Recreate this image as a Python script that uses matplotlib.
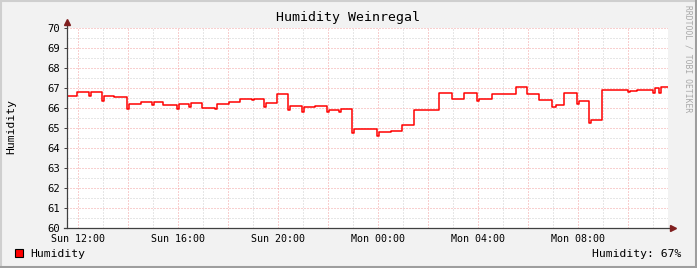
import matplotlib
matplotlib.use("Agg")
import matplotlib.pyplot as plt
from matplotlib.patches import Rectangle
from matplotlib.lines import Line2D

# ---- data (hours relative to Sun 12:00, humidity %) ----
hours = [-0.44, -0.03, 0.43, 0.51, 0.95, 1.03, 1.44, 1.95, 2.03, 2.5,
         2.95, 3.03, 3.4, 3.97, 4.05, 4.45, 4.53, 4.95, 5.48, 5.56,
         6.05, 6.48, 6.97, 7.05, 7.45, 7.53, 7.95, 8.41, 8.49, 8.95,
         9.03, 9.48, 9.95, 10.03, 10.45, 10.53, 10.95, 11.03, 11.95, 12.03,
         12.52, 12.95, 13.44, 14.43, 14.96, 15.45, 15.95, 16.03, 16.55, 17.5,
         17.95, 18.44, 18.97, 19.1, 19.44, 19.97, 20.05, 20.45, 20.53, 20.95,
         21.99, 22.07, 22.35, 23.0, 23.08, 23.25, 23.33, 23.6]
humidity = [66.6, 66.8, 66.6, 66.8, 66.35, 66.6, 66.55, 65.95, 66.2, 66.3,
            66.15, 66.3, 66.15, 65.95, 66.2, 66.05, 66.25, 66.0, 65.95, 66.2,
            66.3, 66.45, 66.4, 66.45, 66.07, 66.25, 66.7, 65.9, 66.1, 65.8,
            66.05, 66.1, 65.8, 65.9, 65.8, 65.95, 64.75, 64.95, 64.6, 64.8,
            64.87, 65.13, 65.9, 66.73, 66.43, 66.75, 66.35, 66.45, 66.7, 67.07,
            66.7, 66.4, 66.03, 66.15, 66.73, 66.18, 66.33, 65.27, 65.42, 66.88,
            66.8, 66.83, 66.88, 66.75, 67.0, 66.75, 67.05, 67.05]

tick_hours = [0, 4, 8, 12, 16, 20]
tick_labels = ["Sun 12:00", "Sun 16:00", "Sun 20:00", "Mon 00:00", "Mon 04:00", "Mon 08:00"]
y_ticks = list(range(60, 71))
title = "Humidity Weinregal"
series_name = "Humidity"
last_text = "Humidity: 67%"

W, H = 697, 268
BG = "#F2F2F2"
FONT = "DejaVu Sans Mono"

fig = plt.figure(figsize=(W / 100, H / 100), dpi=100, facecolor=BG)
L, R, T, B = 67, 668, 28, 228
ax = fig.add_axes([L / W, 1 - B / H, (R - L) / W, (B - T) / H])
ax.set_facecolor("white")
xmin, xmax = -0.44, 23.6
ax.set_xlim(xmin, xmax)
ax.set_ylim(60, 70)

# grid
dash = (0, (1, 2))
red_grid = "#F2A0A0"
grey_grid = "#CFCFCF"
for yv in range(60, 71):
    ax.axhline(yv, color=red_grid, lw=0.72, ls=dash, zorder=1)
    if yv < 70:
        ax.axhline(yv + 0.5, color=grey_grid, lw=0.72, ls=dash, zorder=1)
for hv in range(0, 24):
    if hv % 2 == 0:
        ax.axvline(hv, color=red_grid, lw=0.72, ls=dash, zorder=1)
    else:
        ax.axvline(hv, color=grey_grid, lw=0.72, ls=dash, zorder=1)

ax.plot(hours, humidity, drawstyle="steps-post", color="#FF0000", lw=1.1, zorder=3)

for s in ax.spines.values():
    s.set_visible(False)

ax.set_yticks(y_ticks)
ax.set_yticklabels([str(v) for v in y_ticks], fontfamily=FONT, fontsize=7.6)
ax.set_xticks(tick_hours)
ax.set_xticklabels(tick_labels, fontfamily=FONT, fontsize=7.2)
ax.tick_params(axis="y", length=2.2, width=0.7, color="#404040", pad=2.5)
ax.tick_params(axis="x", length=0, pad=4.5)

# axes lines with arrows
ax.add_line(Line2D([0, 0], [0, 1 + 6 / 200], transform=ax.transAxes, color="#404040",
                   lw=0.9, clip_on=False, zorder=4))
ax.add_line(Line2D([-3 / 601, 1 + 5 / 601], [0, 0], transform=ax.transAxes, color="#404040",
                   lw=0.9, clip_on=False, zorder=4))
ax.plot([0], [1 + 6 / 200], marker="^", ms=4, color="#801F1F", transform=ax.transAxes,
        clip_on=False, zorder=5)
ax.plot([1 + 5 / 601], [0], marker=">", ms=4, color="#801F1F", transform=ax.transAxes,
        clip_on=False, zorder=5)

# texts
fig.text(348 / W, 1 - 18 / H, title, fontfamily=FONT, fontsize=9.5, ha="center", va="center")
fig.text(11 / W, 1 - 127 / H, "Humidity", fontfamily=FONT, fontsize=8.2, rotation=90,
         ha="center", va="center")
fig.text(688 / W, 1 - 5 / H, "RRDTOOL / TOBI OETIKER", fontfamily=FONT, fontsize=5.8,
         rotation=270, ha="center", va="top", color="#A8A8A8")

# legend
fig.patches.append(Rectangle((15 / W, 1 - 257 / H), 8 / W, 8 / H, transform=fig.transFigure,
                             facecolor="#FF0000", edgecolor="black", lw=0.8))
fig.text(30 / W, 1 - 254 / H, series_name, fontfamily=FONT, fontsize=8.2, ha="left", va="center")
fig.text(681 / W, 1 - 254 / H, last_text, fontfamily=FONT, fontsize=8.2, ha="right", va="center")

# 3D border
fig.add_artist(Line2D([0, 1], [1 - 1 / H, 1 - 1 / H], transform=fig.transFigure, color="#CFCFCF", lw=1.5))
fig.add_artist(Line2D([1 / W, 1 / W], [0, 1], transform=fig.transFigure, color="#CFCFCF", lw=1.5))
fig.add_artist(Line2D([0, 1], [1.5 / H, 1.5 / H], transform=fig.transFigure, color="#9E9E9E", lw=2.2))
fig.add_artist(Line2D([1 - 1.5 / W, 1 - 1.5 / W], [0, 1], transform=fig.transFigure, color="#9E9E9E", lw=2.2))

fig.savefig("out.png", dpi=100, facecolor=BG)
